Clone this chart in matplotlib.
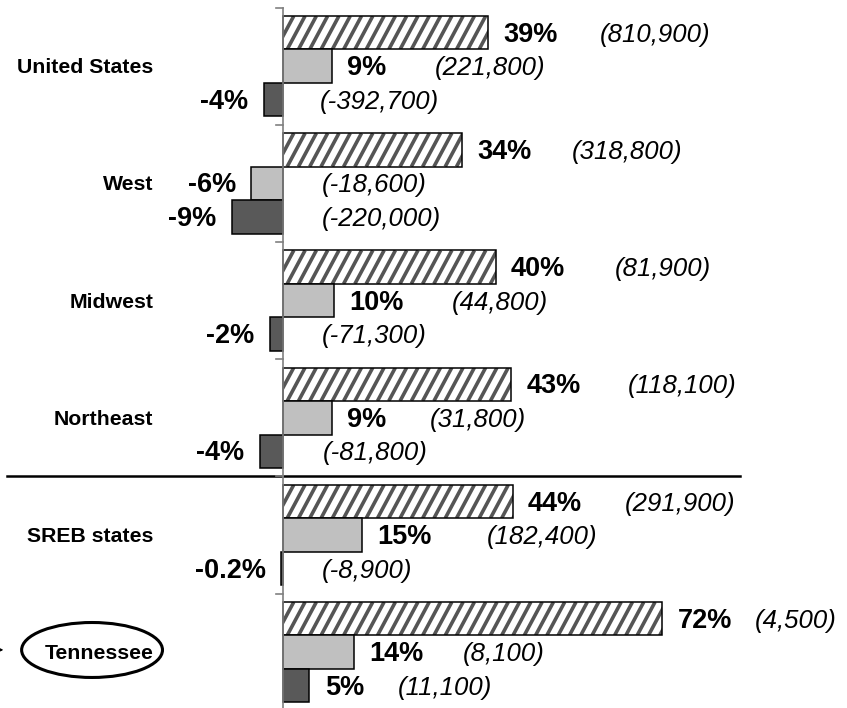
import numpy as np
import matplotlib
matplotlib.use('Agg')
import matplotlib.pyplot as plt
from matplotlib.patches import Ellipse
from matplotlib.collections import LineCollection

plt.rcParams['font.family'] = ['Liberation Sans', 'DejaVu Sans']

# Daten
regions = ['United States', 'West', 'Midwest', 'Northeast', 'SREB states', 'Tennessee']
change_a = [39, 34.1, 40.4, 43.3, 43.6, 72]      # schraffierter Balken
change_b = [9.3, -5.9, 9.8, 9.3, 15.0, 13.6]     # hellgrauer Balken
change_c = [-3.6, -9.6, -2.4, -4.3, -0.2, 5.1]   # dunkelgrauer Balken

pct_a = ['39%', '34%', '40%', '43%', '44%', '72%']
pct_b = ['9%', '-6%', '10%', '9%', '15%', '14%']
pct_c = ['-4%', '-9%', '-2%', '-4%', '-0.2%', '5%']

count_a = ['(810,900)', '(318,800)', '(81,900)', '(118,100)', '(291,900)', '(4,500)']
count_b = ['(221,800)', '(-18,600)', '(44,800)', '(31,800)', '(182,400)', '(8,100)']
count_c = ['(-392,700)', '(-220,000)', '(-71,300)', '(-81,800)', '(-8,900)', '(11,100)']

# x-Position der Klammer-Labels (im Original von Hand gesetzt)
count_x_a = [60.2, 54.9, 63.0, 65.5, 64.9, 89.6]
count_x_b = [28.9, 7.5, 32.1, 28.0, 38.8, 34.2]
count_x_c = [7.1, 7.5, 7.5, 7.7, 7.5, 21.9]

fig = plt.figure(figsize=(8.47, 7.08), dpi=100)
ax = fig.add_axes([0, 0, 1, 1])
ax.set_xlim(-53.55, 107.0)
ax.set_ylim(5.476, -0.565)
ax.axis('off')

bar_h = 0.286
y = np.arange(len(regions))
ya = y - bar_h
yb = y
yc = y + bar_h

# schraffierte Balken: weiss, schraege Streifen, schwarzer Rand
bars_a = ax.barh(ya, change_a, height=bar_h, color='white', edgecolor='none', zorder=1)
run = 3.4       # horizontaler Versatz eines Streifens ueber die Balkenhoehe
spacing = 2.14  # Abstand der Streifen
for rect in bars_a:
    x1 = rect.get_x() + rect.get_width()
    top = rect.get_y()
    bottom = rect.get_y() + rect.get_height()
    starts = np.arange(-run, x1 + spacing, spacing)
    segs = [[(s, bottom), (s + run, top)] for s in starts]
    lc = LineCollection(segs, colors='#555555', linewidths=2.6, zorder=2)
    ax.add_collection(lc)
    lc.set_clip_path(rect.get_path(), rect.get_transform())
ax.barh(ya, change_a, height=bar_h, fill=False, edgecolor='black', linewidth=1.1, zorder=3)

ax.barh(yb, change_b, height=bar_h, color='#c0c0c0', edgecolor='black', linewidth=1.1, zorder=3)
ax.barh(yc, change_c, height=bar_h, color='#595959', edgecolor='black', linewidth=1.1, zorder=3)

# Prozent-Labels
for vals, labels, ys in [(change_a, pct_a, ya), (change_b, pct_b, yb), (change_c, pct_c, yc)]:
    for v, lab, yy in zip(vals, labels, ys):
        ax.annotate(lab, (v, yy), xytext=(11 if v >= 0 else -11, -1.5), textcoords='offset points',
                    ha='left' if v >= 0 else 'right', va='center',
                    fontsize=19.5, fontweight='bold', zorder=5)

# Anzahl in Klammern
for xs, labels, ys in [(count_x_a, count_a, ya), (count_x_b, count_b, yb), (count_x_c, count_c, yc)]:
    for xx, lab, yy in zip(xs, labels, ys):
        ax.annotate(lab, (xx, yy), xytext=(0, -1.5), textcoords='offset points',
                    ha='left', va='center', fontsize=18.5, style='italic', zorder=5)

# Kategorien
for i, name in enumerate(regions):
    ax.annotate(name, (-24.5, y[i]), xytext=(0, -1), textcoords='offset points',
                ha='right', va='center', fontsize=15.3, fontweight='bold')

# Tennessee eingekreist + Pfeil
ax.add_patch(Ellipse((-36.1, 4.981), 26.7, 0.469, fill=False, edgecolor='black',
                     linewidth=2.2, clip_on=False))
ax.annotate('', xy=(-52.9, 4.98), xytext=(-60.0, 4.98),
            arrowprops=dict(arrowstyle='-|>', color='black', lw=1.0, shrinkA=0, shrinkB=0),
            annotation_clip=False)

# Achse mit kleinen Ticks an den Gruppengrenzen
ax.plot([0, 0], [-0.5, 5.6], color='#808080', linewidth=1.2, zorder=4)
for b in np.arange(-0.5, 6.0, 1.0):
    ax.plot([-1.15, 0], [b, b], color='#808080', linewidth=1.2, zorder=4)

# Trennlinie zwischen Regionen und SREB
ax.plot([-52.2, 86.7], [3.5, 3.5], color='black', linewidth=1.8)

fig.savefig('out.png', dpi=100)
